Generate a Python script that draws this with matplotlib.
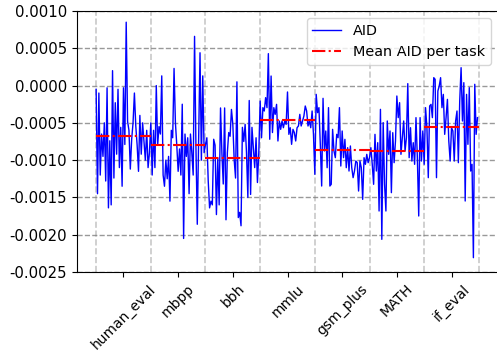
import matplotlib
matplotlib.use('Agg')
import matplotlib.pyplot as plt
import numpy as np

# task names and per-task AID values (units of 1e-4)
tasks = ['human_eval', 'mbpp', 'bbh', 'mmlu', 'gsm_plus', 'MATH', 'if_eval']

aid_human_eval = [-0.5, -14.5, -1, -12, -6.5, -9.5, -5, -12.8, -0.3, -16.4,
                  -7.4, -16, 2, -12.4, -2.3, -9.2, -0.5, -11, -5.6, -13.5,
                  -0.3, -7.9, 8.5, -4.8, -6, -11.2, -7.2, -5, -1, -5.4,
                  -8, -11.5, -4, -9.2, -5, -7.5, -10, -6, -11, -9]
aid_mbpp = [-5, -12, -6, -11, 0, -8, -5.5, -6.5, 1.3, -12,
            -13.5, -10, -12.5, -9.5, -15.5, -6, -7, 2.3, -5, -8,
            -11.5, -8.5, -12, -2.5, -20.5, -6.5, -9.5, -7, -14.5, -6.5,
            -9, -12, 6.6, -8, -18.6, -7, 4.4, -10, 1.3, -9]
aid_bbh = [-7.9, -7, -12.8, -16.4, -15.5, -16, -7.2, -8, -17.3, -9.7,
           -16, -3, -9, -13.2, -3, -18, -9, -6.3, -6.8, -3.2,
           -5.2, -10, -12.4, 0.5, -17.7, -17, -18.8, -5.6, -7.5, -5.2,
           -9, -15, -2, -14.6, -5.6, -8.3, -11, -7, -13, -9]
aid_mmlu = [-2.07, -7.0, -2.96, -3.41, -1.62, -2.96, 4.28, -7.2, 1.28, -6.3,
            -2.96, -3.86, -2.52, -7.43, -4.75, -5.87, -4.75, -5.65, -4.75, -5.2,
            -0.86, -6.54, -5.65, -7.88, -5.87, -6.3, -7.43, -5.65, -5.42, -3.86,
            -5.42, -4.75, -4.08, -2.74, -3.41, -5.42, -4.75, -5.65, -3.41, -6.54]
aid_gsm_plus = [-11.9, -1.18, -3.63, -2.96, -7.88, -13.47, -1.71, -8.77, -6.09, -11.01,
                -2.96, -13.47, -13.24, -5.87, -8.77, -9.67, -6.54, -6.99, -2.96, -10.79,
                -6.09, -9.67, -7.21, -11.01, -8.33, -11.46, -8.1, -11.01, -12.35, -11.46,
                -10.11, -10.34, -14.14, -10.11, -11.01, -15.26, -9.67, -10.56, -9.22, -10.34]
aid_math = [-9.67, -8.33, -10.56, -13.24, -6.54, -11.46, -7.66, -16.82, -3.19, -20.62,
            -4.97, -13.24, -16.82, -4.75, -9.22, -6.09, -14.36, -6.32, -10.34, -7.43,
            -1.4, -4.3, -2.29, -9.22, -6.99, -4.75, -8.77, -6.99, 0.26, -9.67,
            -5.65, -10.12, -7.66, -10.56, -4.3, -9.67, -17.49, -4.3, -10.12, -6.09]
aid_if_eval = [-10.56, -2.96, -5.65, -12.35, -2.74, -2.52, -4.3, 1.06, 0.84, -12.35,
               -0.73, -0.06, 1.06, -2.96, -1.18, -6.54, -4.3, -1.85, -7.43, -10.12,
               -5.65, -6.09, -10.12, -4.75, -3.41, -10.34, -2.07, 2.4, -4.75, 0.39,
               -15.48, -1.18, -7.88, -0.28, -11.46, -10.56, -23.08, 0.17, -6.54, -4.3]

task_means = [-6.76, -7.93, -9.71, -4.62, -8.60, -8.77, -5.51]

per_task = [aid_human_eval, aid_mbpp, aid_bbh, aid_mmlu, aid_gsm_plus, aid_math, aid_if_eval]


def main():
    aid = np.concatenate([np.array(v) for v in per_task]) * 1e-4
    x = np.arange(len(aid))
    bounds = np.cumsum([0] + [len(v) for v in per_task])

    fig = plt.figure(figsize=(4.97, 3.51), dpi=100)
    ax = fig.add_axes([77 / 497, 1 - 272 / 351, 421 / 497, 261 / 351])

    ax.plot(x, aid, color='blue', linewidth=1, label='AID')
    for i in range(len(tasks)):
        ax.hlines(task_means[i] * 1e-4, bounds[i], bounds[i + 1], colors='red',
                  linestyles='-.', linewidth=1.5,
                  label='Mean AID per task' if i == 0 else None)
    for b in bounds:
        ax.axvline(b, color='#c8c8c8', linestyle='--', linewidth=1.2, zorder=0)

    centers = (bounds[:-1] + bounds[1:]) / 2
    ax.set_xticks(centers)
    ax.set_xticklabels(tasks, rotation=45, fontsize=10)
    ax.set_xlim(-0.05 * bounds[-1], 1.05 * bounds[-1])
    ax.set_ylim(-0.0025, 0.0010)
    yt = np.arange(-0.0025, 0.00101, 0.0005)
    ax.set_yticks(yt)
    ax.set_yticklabels(['%.4f' % t for t in yt])
    ax.tick_params(axis='y', labelsize=10.7)
    ax.yaxis.grid(True, linestyle='--', color='gray', alpha=0.8, linewidth=1)

    ax.legend(loc='upper right', fontsize=10.4)
    fig.savefig('out.png', dpi=100)


if __name__ == '__main__':
    main()
